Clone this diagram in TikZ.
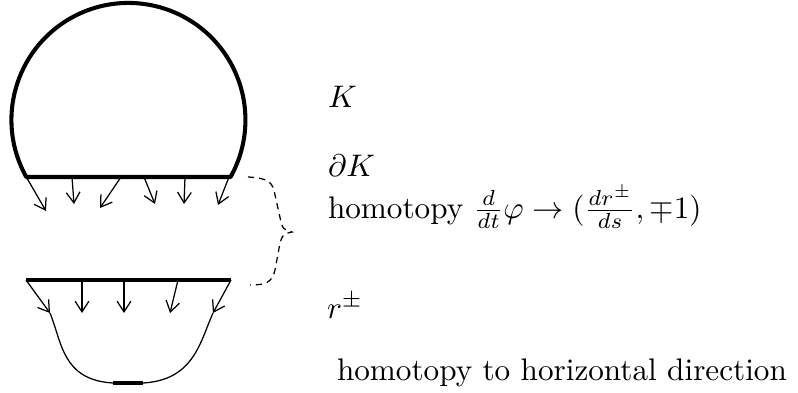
\documentclass[tikz,border=0pt]{standalone}
\usetikzlibrary{arrows.meta}
\begin{document}
\begin{tikzpicture}[x=0.3206pt,y=0.3206pt,
  thickline/.style={line width=1.3pt},
  thinline/.style={line width=0.4pt},
  vec/.style={thinline,-{Straight Barb[length=3.4pt,width=4.4pt]}},
  bracestyle/.style={thinline,dash pattern=on 2pt off 1.6pt},
  lbl/.style={anchor=base west,inner sep=0pt,outer sep=0pt}]
\useasboundingbox (0,0) rectangle (798,392);
% dome K
\draw[thickline,line join=round] (26.3,215) arc[start angle=209.2,end angle=-29.2,radius=117] -- cycle;
% upper vectors
\foreach \sx/\ex/\ey in {26.3/46/181, 72/74/188, 121/100/184, 144/155/188, 185/184/188, 229/218/187}
  \draw[vec] (\sx,215) -- (\ex,\ey);
% lower chord
\draw[thickline] (26,112) -- (231,112);
\foreach \sx/\ex in {26/50, 82/82, 124/124, 178/170, 231/213}
  \draw[vec] (\sx,112) -- (\ex,79);
% lower curve
\draw[thinline] (50,79) .. controls (62,50) and (62,12) .. (113,9);
\draw[thickline] (113,9) -- (143,9);
\draw[thinline] (143,9) .. controls (194,12) and (200,50) .. (213,79);
% dashed brace
\draw[bracestyle] (248,215) .. controls (268,214) and (273,210) .. (275,197) -- (281,170)
  .. controls (283,163) .. (292,160) .. controls (283,158) .. (280,149) -- (275,122)
  .. controls (272,109) and (265,107) .. (250,107);
% labels
\node[lbl] (k) at (328,285) {$K$};
\node[lbl] (dk) at (328,216) {$\partial K$};
\node[lbl] (h1) at (328,174) {homotopy $\frac{d}{dt}\varphi\rightarrow(\frac{dr^{\pm}}{ds},\mp1)$};
\node[lbl] (r) at (327,74) {$r^{\pm}$};
\node[lbl] (h2) at (337,12) {homotopy to horizontal direction};
\end{tikzpicture}
\end{document}
